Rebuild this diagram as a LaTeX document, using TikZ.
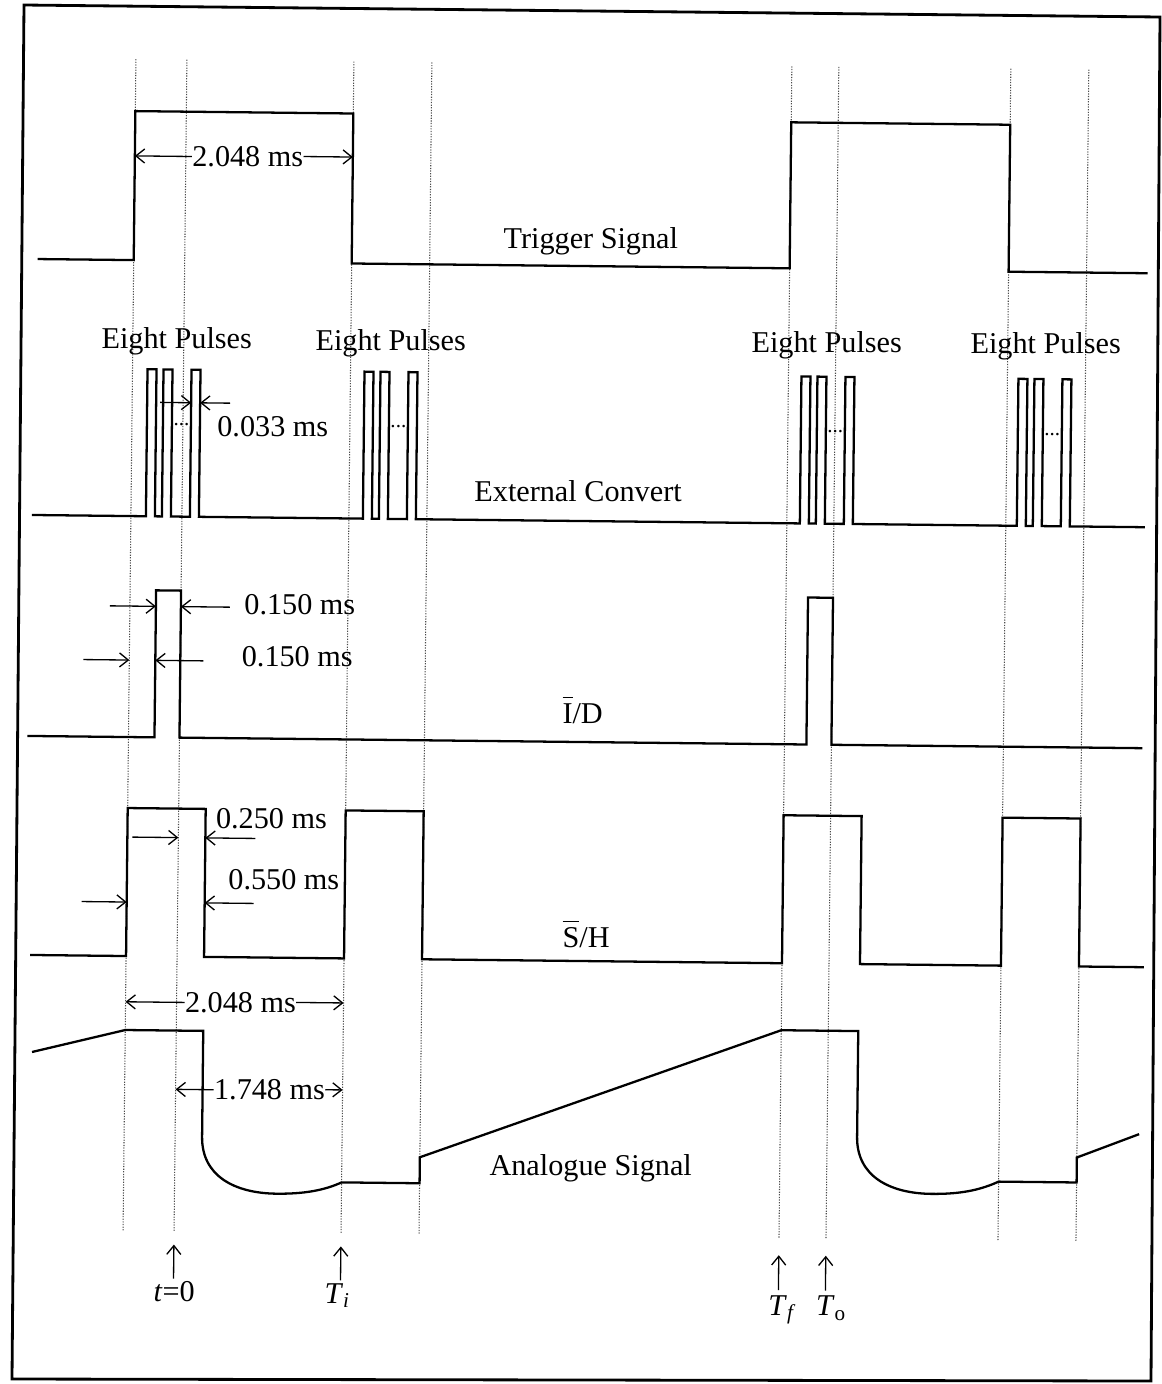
\documentclass[tikz,border=0pt]{standalone}
\usepackage{amsmath}
\usepackage{fontspec}
\setmainfont{Liberation Serif}
\usetikzlibrary{arrows.meta,positioning}

\begin{document}
\begin{tikzpicture}[
        x=0.02cm, y=-0.02cm,
        wave/.style={line width=1.3pt, line join=miter},
        guide/.style={line width=0.6pt, black!70, dash pattern=on 0.7pt off 0.8pt},
        dim/.style={-{Straight Barb[length=5pt, width=8pt]}, line width=0.75pt},
        lbl/.style={font=\fontsize{17.2}{20}\selectfont, inner sep=0pt, anchor=base},
        boxline/.style={line width=1.6pt}
    ]
    \useasboundingbox (0,0) rectangle (1161,1384);
    % outer frame
    \draw[boxline] (24,5) -- (1160,17) -- (1151,1381) -- (12,1379) -- cycle;

    \begin{scope}[rotate around={-0.63:(580,690)}]
        % guide lines
        \foreach \n/\x in {A/129, B/180, C/347, D/425, E/785, F/832, G/1004, H/1082} {
            \coordinate (g\n) at (\x,64);
            \draw[guide] (g\n) -- (\x,1236);
        }

        % Trigger signal
        \draw[wave] (33,265) -- (129,265) -- (129,116) -- (347,116) -- (347,266) -- (785,266)
            -- (785,120) -- (1004,120) -- (1004,267) -- (1143,267);
        \node[lbl] (trigdur) at (242,170) {2.048 ms};
        \draw[dim] (trigdur.west) -- (trigdur.west -| gA);
        \draw[dim] (trigdur.east) -- (trigdur.east -| gC);
        \node[lbl] (trig) at (586,248) {Trigger Signal};

        % External convert
        \draw[wave] (30,521) foreach \p in {144,160,188,361,377,405,798,814,842,1015,1031,1059}
            { -- (\p,521) -- (\p,374) -- (\p+9,374) -- (\p+9,521) } -- (1143,521);
        \foreach \p/\n in {144/dots1, 361/dots2, 798/dots3, 1015/dots4}
            \node[font=\fontsize{12}{12}\selectfont, inner sep=0pt] (\n) at (\p+34.5,429) {...};
        \node[lbl] (pulsesA) at (173,353) {Eight Pulses};
        \node[lbl] (pulsesB) at (387,353) {Eight Pulses};
        \node[lbl] (pulsesC) at (823,350) {Eight Pulses};
        \node[lbl] (pulsesD) at (1042,348) {Eight Pulses};
        \node[lbl] (pwidth) at (270,440) {0.033 ms};
        \draw[dim] (157,407) -- (188,407);
        \draw[dim] (227,407) -- (197,407);
        \node[lbl] (conv) at (576,502) {External Convert};

        % I/D
        \draw[wave] (28,742) -- (155,742) -- (155,595) -- (180,595) -- (180,742) -- (807,742)
            -- (807,595) -- (832,595) -- (832,742) -- (1143,742);
        \node[lbl] (idwidth) at (299,618) {0.150 ms};
        \node[lbl] (iddelay) at (297,670) {0.150 ms};
        \draw[dim] (109,611) -- (155,611);
        \draw[dim] (229,611) -- (180,611);
        \draw[dim] (83,665) -- (129,665);
        \draw[dim] (203,665) -- (155,665);
        \node[lbl] (id) at (583,723) {$\overline{\mbox{\rule{0pt}{12.3pt}I}}$/D};

        % S/H
        \draw[wave] (33,961) -- (129,961) -- (129,813) -- (207,813) -- (207,961) -- (347,961)
            -- (347,813) -- (425,813) -- (425,961) -- (785,961) -- (785,813) -- (863,813)
            -- (863,961) -- (1004,961) -- (1004,813) -- (1082,813) -- (1082,961) -- (1147,961);
        \node[lbl] (shA) at (273,832) {0.250 ms};
        \node[lbl] (shB) at (286,893) {0.550 ms};
        \draw[dim] (134,842) -- (180,842);
        \draw[dim] (257,842) -- (207,842);
        \draw[dim] (84,907) -- (129,907);
        \draw[dim] (256,907) -- (207,907);
        \node[lbl] (sh) at (589,947) {$\overline{\mbox{\rule{0pt}{12.3pt}S}}$/H};
        \node[lbl] (shdur) at (244,1016) {2.048 ms};
        \draw[dim] (shdur.west) -- (shdur.west -| gA);
        \draw[dim] (shdur.east) -- (shdur.east -| gC);

        % Analogue signal
        \draw[wave] (36,1058) -- (129,1035) -- (207,1035) -- (207,1141)
            .. controls (207,1180) and (240,1197) .. (282,1197)
            .. controls (310,1197) and (330,1193) .. (347,1185) -- (425,1185) -- (425,1159)
            -- (785,1028) -- (862,1028) -- (862,1134)
            .. controls (862,1173) and (895,1190) .. (937,1190)
            .. controls (965,1190) and (985,1186) .. (1004,1177) -- (1082,1177) -- (1082,1152)
            -- (1144,1128);
        \node[lbl] (hold) at (274,1103) {1.748 ms};
        \draw[dim] (hold.west) -- (hold.west -| gB);
        \draw[dim] (hold.east) -- (hold.east -| gC);
        \node[lbl] (ana) at (596,1175) {Analogue Signal};

        % time marks
        \node[lbl] (tzero) at (181,1306) {\textit{t}=0};
        \node[lbl] (tini) at (344,1306) {\textit{T}$_{\textit{i}}$};
        \node[lbl] (tfin) at (788,1313) {\textit{T}$_{\textit{f}}$};
        \node[lbl] (tout) at (838,1313) {\textit{T}$_{\textup{o}}$};
        \draw[dim] (180,1283) -- (180,1249);
        \draw[dim] (347,1283) -- (347,1249);
        \draw[dim] (785,1288) -- (785,1253);
        \draw[dim] (832,1288) -- (832,1253);
    \end{scope}
\end{tikzpicture}
\end{document}
